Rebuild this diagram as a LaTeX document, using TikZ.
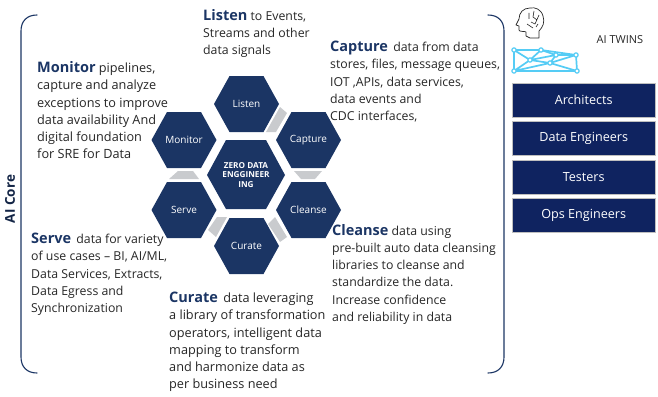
\documentclass[tikz,border=0pt]{standalone}
\usepackage{fontspec}
\setmainfont{Open Sans}
\definecolor{navy}{HTML}{1B3564}
\definecolor{boxnavy}{HTML}{0F2360}
\definecolor{graybar}{HTML}{C9CBCE}
\definecolor{txt}{HTML}{262626}
\definecolor{cyanlink}{HTML}{55CCF5}
\newcommand{\hexa}[6]{\coordinate (#1) at (#2,#3);
  \fill[navy] ($(#1)+(-#4,0)$) -- ($(#1)+(-#5,-28)$) -- ($(#1)+(#5,-28)$) -- ($(#1)+(#4,0)$) -- ($(#1)+(#5,28)$) -- ($(#1)+(-#5,28)$) -- cycle;
  \node[hexlabel] (#1label) at (#1) {#6};}
\newcommand{\hd}[1]{{\fontsize{14.5}{17}\selectfont\bfseries\color{navy}#1}}
\usetikzlibrary{calc}
\tikzset{
  hexlabel/.style={text=white,font=\fontsize{10}{12}\selectfont,align=center,inner sep=0pt},
  para/.style={anchor=north west,align=left,inner sep=0pt,text=txt,font=\fontsize{12.3}{17.2}\selectfont},
  parawide/.style={para,font=\fontsize{12.7}{17.2}\selectfont},
  rolebox/.style={fill=boxnavy,draw=gray!50,line width=0.4pt,text=white,minimum width=143,minimum height=34,inner sep=0pt,anchor=north west,font=\fontsize{12.6}{14}\selectfont},
  brace/.style={draw=navy,line width=1.1pt,line cap=round},
  link/.style={draw=cyanlink,line width=1.7pt},
  dot/.style={fill=white,draw=cyanlink,line width=1.2pt,circle,inner sep=1.5pt}
}
\begin{document}
\begin{tikzpicture}[x=1pt,y=-1pt]
\useasboundingbox (0,0) rectangle (658,396);
% brackets
\coordinate (lt) at (37,15); \coordinate (lb) at (37,373);
\coordinate (rt) at (488,15); \coordinate (rb) at (488,373);
\draw[brace] (lt) .. controls (27,15) and (21,21) .. (21,31) -- (21,357) .. controls (21,367) and (27,373) .. (lb);
\draw[brace] (rt) .. controls (498,15) and (504,21) .. (504,31) -- (504,357) .. controls (504,367) and (498,373) .. (rb);
\node[rotate=90,text=navy!70!black,font=\fontsize{13.5}{15}\selectfont\bfseries] (aicore) at (10,199) {AI Core};
% connectors
\fill[graybar] (266,132) -- (280,107) -- (287,113) -- (276,132) -- cycle;
\fill[graybar] (294,171) -- (322,171) -- (315,179) -- (301,179) -- cycle;
\fill[graybar] (169,179) -- (178,171) -- (193,171) -- (199,179) -- cycle;
\fill[graybar] (217,217) -- (227,217) -- (216,237) -- (208,230) -- cycle;
\fill[graybar] (268,224) -- (275,217) -- (287,237) -- (280,242) -- cycle;
% hexagons
\hexa{listen}{246.5}{104}{32.5}{17}{Listen}
\hexa{capture}{308.5}{140}{32.5}{17}{Capture}
\hexa{monitor}{184}{140}{32.5}{17}{Monitor}
\hexa{cleanse}{308.5}{210}{32.5}{17}{Cleanse}
\hexa{serve}{184}{210}{32.5}{17}{Serve}
\hexa{curate}{246.5}{246}{32.5}{17}{Curate}
\fill[navy] (207,175) -- (226,140) -- (266,140) -- (285,175) -- (266,209) -- (226,209) -- cycle;
\node[text=white,align=center,inner sep=0pt,font=\fontsize{8.2}{9.2}\selectfont\bfseries] (zero) at (246,175) {ZERO DATA\\ENGGINEER\\ING};
% texts
\node[para] (tlisten) at (203,9) {\hd{Listen} to Events,\\Streams and other\\data signals};
\node[para] (tcapture) at (330,41) {\hd{Capture}\, data from data\\stores, files, message queues,\\IOT ,APIs, data services,\\data events and\\CDC interfaces,};
\node[parawide] (tmonitor) at (37,61.5) {\hd{Monitor} pipelines,\\capture and analyze\\exceptions to improve\\data availability And\\digital foundation\\for SRE for Data};
\node[para] (tserve) at (31,233) {\hd{Serve}\, data for variety\\of use cases -- BI, AI/ML,\\Data Services, Extracts,\\Data Egress and\\Synchronization};
\node[parawide] (tcurate) at (169,292) {\hd{Curate}\, data leveraging\\a library of transformation\\operators, intelligent data\\mapping to transform\\and harmonize data as\\per business need};
\node[para] (tcleanse) at (332,224) {\hd{Cleanse} data using\\pre-built auto data cleansing\\libraries to cleanse and\\standardize the data.\\Increase confidence\\and reliability in data};
% right
\node[rolebox] (arch) at (512,83) {Architects};
\node[rolebox] (eng) at (512,121) {Data Engineers};
\node[rolebox] (test) at (512,160) {Testers};
\node[rolebox] (ops) at (512,198) {Ops Engineers};
\node[text=txt,inner sep=0pt,font=\fontsize{11}{13}\selectfont] (twins) at (620,40) {AI TWINS};
% head icon
\draw[line width=0.7pt,line join=round,draw=black!85] (530,38) -- (539,38) -- (539,31) .. controls (543,27) and (545,22) .. (543,16) .. controls (541,9) and (535,7) .. (530,8) .. controls (523,8) and (519,13) .. (519,19) -- (516,25) -- (519,26) -- (519,30) .. controls (519,32) and (525,31) .. (526,32) -- (526,36) -- cycle;
\draw[line width=0.6pt,draw=black!85] (529,13) -- (529,19) (534,11) -- (533,17) -- (537,20) (539,15) -- (535,24) -- (531,22) (527,24) -- (533,28) (536,27) -- (538,24);
% network
\foreach \n/\x/\y in {a/514/50,b/541/50,c/576/55,d/577/71,e/514/71,f/550/63,g/530/60,h/556/55}{\coordinate (\n) at (\x,\y);}
\draw[link] (a)--(b)--(c)--(d)--(e)--(a);
\draw[link] (a)--(g)--(b) (g)--(e) (g)--(h)--(c) (b)--(h) (g)--(f)--(d) (f)--(h) (e)--(f)--(c);
\foreach \n in {a,b,c,d,e,f,g,h}{\node[dot] at (\n) {};}
\end{tikzpicture}
\end{document}
